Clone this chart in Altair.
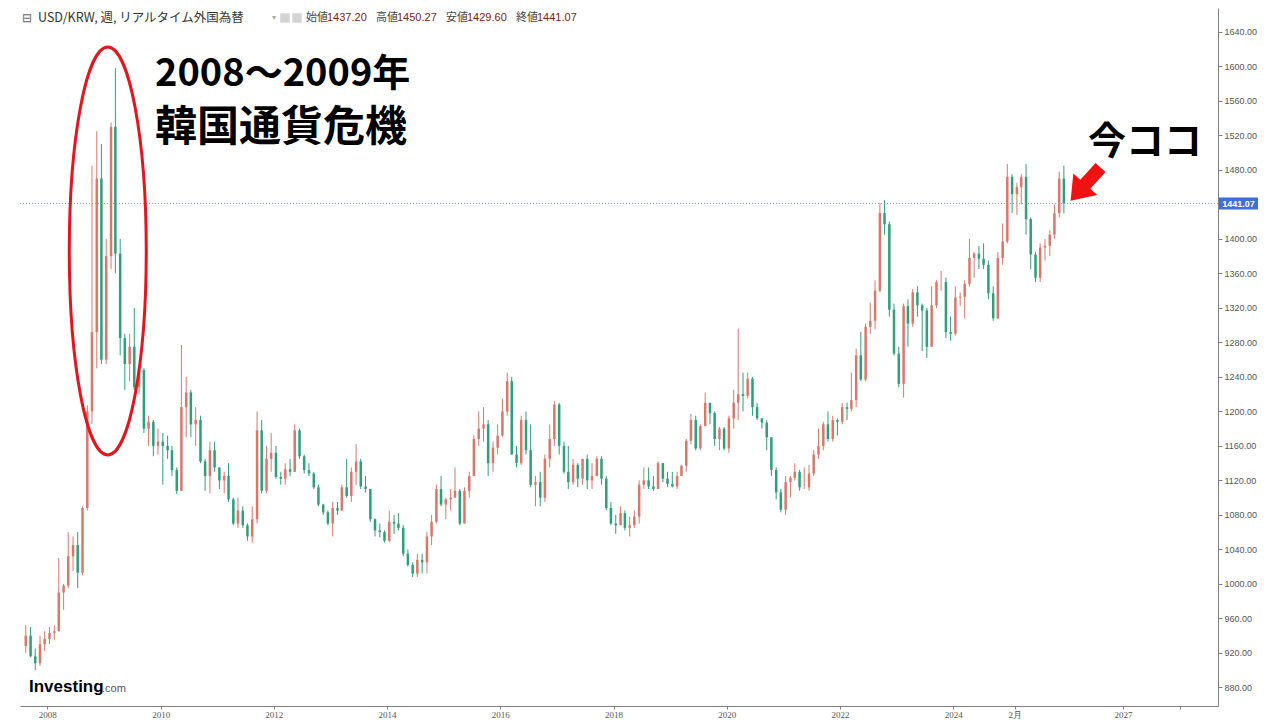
import altair as alt
import pandas as pd

# ---------------- data (monthly candles) ----------------
first_month = "2007-08-01"

opens = [
    928, 940, 916, 908, 930,                                          # 2007 Aug-Dec
    936, 943, 945, 990, 998, 1032, 1045, 1013, 1088, 1200, 1292, 1470,  # 2008
    1260, 1380, 1530, 1383, 1285, 1255, 1275, 1228, 1248, 1180, 1188, 1160,  # 2009
    1165, 1160, 1155, 1132, 1108, 1205, 1222, 1185, 1190, 1142, 1125, 1155,  # 2010
    1135, 1120, 1125, 1098, 1070, 1085, 1068, 1055, 1075, 1178, 1108, 1145,  # 2011
    1152, 1124, 1122, 1133, 1130, 1178, 1148, 1132, 1128, 1112, 1092, 1083,  # 2012
    1070, 1088, 1085, 1112, 1102, 1130, 1142, 1113, 1110, 1075, 1062, 1060,  # 2013
    1050, 1072, 1070, 1065, 1035, 1022, 1012, 1028, 1025, 1055, 1072, 1110,  # 2014
    1092, 1098, 1100, 1108, 1070, 1108, 1125, 1168, 1180, 1185, 1140, 1158,  # 2015
    1172, 1200, 1235, 1150, 1140, 1190, 1155, 1115, 1118, 1100, 1145, 1168,  # 2016
    1208, 1160, 1130, 1118, 1138, 1122, 1145, 1120, 1125, 1145, 1122, 1088,  # 2017
    1070, 1068, 1082, 1065, 1068, 1078, 1115, 1120, 1113, 1110, 1140, 1122,  # 2018
    1116, 1113, 1125, 1137, 1166, 1190, 1157, 1183, 1210, 1198, 1168, 1180,  # 2019
    1157, 1192, 1210, 1220, 1218, 1238, 1205, 1192, 1187, 1170, 1132, 1106,  # 2020
    1086, 1118, 1123, 1130, 1112, 1112, 1128, 1150, 1160, 1185, 1168, 1190,  # 2021
    1188, 1205, 1203, 1213, 1265, 1237, 1298, 1305, 1340, 1430, 1417, 1318,  # 2022
    1267, 1232, 1322, 1302, 1338, 1323, 1317, 1275, 1323, 1350, 1350, 1292,  # 2023
    1290, 1332, 1333, 1348, 1378, 1383, 1377, 1370, 1337, 1308, 1378, 1397,  # 2024
    1472, 1452, 1460, 1472, 1423, 1382, 1355, 1390, 1392, 1405, 1430, 1470,  # 2025
]
highs = [
    952, 950, 925, 940, 945,
    950, 952, 1030, 1000, 1060, 1055, 1060, 1090, 1207, 1485, 1525, 1510,
    1400, 1535, 1598, 1400, 1290, 1290, 1320, 1255, 1250, 1195, 1190, 1180,
    1175, 1172, 1160, 1135, 1277, 1240, 1225, 1205, 1195, 1145, 1165, 1165,
    1135, 1130, 1140, 1100, 1100, 1090, 1070, 1090, 1200, 1190, 1160, 1175,
    1160, 1130, 1140, 1145, 1185, 1180, 1150, 1140, 1130, 1115, 1093, 1085,
    1095, 1095, 1115, 1145, 1135, 1162, 1145, 1125, 1110, 1076, 1070, 1062,
    1085, 1080, 1082, 1068, 1040, 1025, 1035, 1035, 1060, 1080, 1115, 1125,
    1100, 1110, 1135, 1110, 1112, 1130, 1172, 1200, 1205, 1190, 1165, 1185,
    1215, 1245, 1240, 1160, 1195, 1200, 1185, 1125, 1130, 1150, 1185, 1212,
    1210, 1165, 1160, 1145, 1140, 1145, 1150, 1140, 1148, 1148, 1125, 1095,
    1080, 1090, 1085, 1078, 1085, 1120, 1135, 1135, 1125, 1142, 1140, 1130,
    1130, 1130, 1138, 1168, 1197, 1195, 1185, 1222, 1210, 1200, 1182, 1182,
    1195, 1225, 1296, 1245, 1245, 1240, 1210, 1192, 1190, 1170, 1135, 1110,
    1125, 1125, 1140, 1132, 1135, 1138, 1155, 1180, 1188, 1200, 1195, 1192,
    1210, 1210, 1245, 1273, 1292, 1302, 1326, 1352, 1442, 1445, 1420, 1325,
    1275, 1325, 1330, 1342, 1345, 1325, 1320, 1345, 1352, 1363, 1355, 1310,
    1345, 1338, 1352, 1400, 1385, 1392, 1395, 1375, 1345, 1385, 1418, 1487,
    1475, 1465, 1475, 1487, 1425, 1385, 1395, 1400, 1410, 1440, 1478, 1485,
]
lows = [
    920, 915, 900, 905, 922,
    930, 935, 945, 970, 995, 1015, 995, 1010, 1085, 1185, 1250, 1255,
    1255, 1365, 1360, 1265, 1225, 1235, 1225, 1220, 1175, 1160, 1148, 1150,
    1115, 1145, 1125, 1104, 1108, 1170, 1170, 1160, 1140, 1108, 1105, 1130,
    1110, 1105, 1095, 1068, 1065, 1065, 1050, 1048, 1070, 1105, 1105, 1130,
    1122, 1115, 1115, 1125, 1130, 1145, 1128, 1125, 1110, 1090, 1080, 1068,
    1055, 1080, 1085, 1100, 1095, 1115, 1110, 1106, 1072, 1055, 1054, 1048,
    1048, 1058, 1062, 1032, 1020, 1008, 1008, 1012, 1012, 1045, 1070, 1090,
    1075, 1085, 1100, 1068, 1070, 1100, 1125, 1160, 1165, 1125, 1130, 1150,
    1170, 1195, 1150, 1135, 1138, 1150, 1112, 1090, 1090, 1095, 1135, 1160,
    1150, 1128, 1110, 1115, 1112, 1115, 1110, 1110, 1125, 1115, 1085, 1068,
    1058, 1068, 1062, 1055, 1065, 1070, 1110, 1110, 1108, 1110, 1118, 1112,
    1112, 1110, 1125, 1130, 1162, 1155, 1155, 1183, 1185, 1160, 1155, 1155,
    1152, 1180, 1190, 1200, 1215, 1195, 1190, 1180, 1155, 1125, 1098, 1083,
    1080, 1100, 1120, 1108, 1110, 1108, 1125, 1145, 1155, 1165, 1165, 1172,
    1185, 1190, 1200, 1205, 1235, 1235, 1290, 1295, 1338, 1405, 1310, 1265,
    1228, 1216, 1275, 1298, 1310, 1270, 1262, 1275, 1320, 1340, 1285, 1282,
    1288, 1322, 1308, 1345, 1355, 1365, 1365, 1330, 1305, 1307, 1370, 1395,
    1430, 1428, 1440, 1405, 1365, 1350, 1350, 1375, 1380, 1400, 1425, 1429.6,
]
closes = [
    940, 916, 908, 930, 936,
    943, 945, 990, 998, 1032, 1045, 1013, 1088, 1200, 1292, 1470, 1260,
    1380, 1530, 1383, 1285, 1255, 1275, 1228, 1248, 1180, 1188, 1160, 1165,
    1160, 1155, 1132, 1108, 1205, 1222, 1185, 1190, 1142, 1125, 1155, 1135,
    1120, 1125, 1098, 1070, 1085, 1068, 1055, 1075, 1178, 1108, 1145, 1152,
    1124, 1122, 1133, 1130, 1178, 1148, 1132, 1128, 1112, 1092, 1083, 1070,
    1088, 1085, 1112, 1102, 1130, 1142, 1113, 1110, 1075, 1062, 1060, 1050,
    1072, 1070, 1065, 1035, 1022, 1012, 1028, 1025, 1055, 1072, 1110, 1092,
    1098, 1100, 1108, 1070, 1108, 1125, 1168, 1180, 1185, 1140, 1158, 1172,
    1200, 1235, 1150, 1140, 1190, 1155, 1115, 1118, 1100, 1145, 1168, 1208,
    1160, 1130, 1118, 1138, 1122, 1145, 1120, 1125, 1145, 1122, 1088, 1070,
    1068, 1082, 1065, 1068, 1078, 1115, 1120, 1113, 1110, 1140, 1122, 1116,
    1113, 1125, 1137, 1166, 1190, 1157, 1183, 1210, 1198, 1168, 1180, 1157,
    1192, 1210, 1220, 1218, 1238, 1205, 1192, 1187, 1170, 1132, 1106, 1086,
    1118, 1123, 1130, 1112, 1112, 1128, 1150, 1160, 1185, 1168, 1190, 1188,
    1205, 1203, 1213, 1265, 1237, 1298, 1305, 1340, 1430, 1417, 1318, 1267,
    1232, 1322, 1302, 1338, 1323, 1317, 1275, 1323, 1350, 1350, 1292, 1290,
    1332, 1333, 1348, 1378, 1383, 1377, 1370, 1337, 1308, 1378, 1397, 1472,
    1452, 1460, 1472, 1423, 1382, 1355, 1390, 1392, 1405, 1430, 1470, 1441.07,
]

# latest weekly bar shown in the header
header_labels = ["始値", "高値", "安値", "終値"]
header_values = ["1437.20", "1450.27", "1429.60", "1441.07"]
last_price = 1441.07

y_tick_values = list(range(880, 1681, 40))
x_tick_dates = ["2008-01-01", "2010-01-01", "2012-01-01", "2014-01-01", "2016-01-01",
                "2018-01-01", "2020-01-01", "2022-01-01", "2024-01-01", "2025-02-01",
                "2027-01-01", "2028-01-01"]

# ---------------- table ----------------
months = pd.date_range(first_month, periods=len(closes), freq="MS") + pd.Timedelta(days=14)
df = pd.DataFrame({"date": months, "open": opens, "high": highs, "low": lows, "close": closes})
df["dir"] = ["up" if c >= o else "down" for o, c in zip(opens, closes)]

UP = "#d9786a"
DOWN = "#2f9e7a"

xs = alt.Scale(domain=[alt.DateTime(year=2007, month=8, date=10),
                       alt.DateTime(year=2028, month=8, date=3)], nice=False)
ys = alt.Scale(domain=[858.4, 1667.8], nice=False, zero=False)

x_axis = alt.Axis(
    values=[alt.DateTime(year=int(d[:4]), month=int(d[5:7]), date=1) for d in x_tick_dates],
    labelExpr="month(datum.value) == 1 ? '2月' : (year(datum.value) == 2028 ? '' : timeFormat(datum.value, '%Y'))",
    title=None, grid=False, domainColor="#808080", tickColor="#808080", tickSize=3,
    labelPadding=1, labelFontSize=9, labelColor="#555555", labelFont="Liberation Sans Narrow",
)
y_axis = alt.Axis(
    orient="right", values=y_tick_values, format=".2f", title=None, grid=False,
    domainColor="#808080", tickColor="#808080", tickSize=4, labelPadding=2,
    labelFontSize=9, labelColor="#555555", labelFont="Liberation Sans",
)
X = lambda f: alt.X(f, scale=xs, axis=x_axis)
Y = lambda f: alt.Y(f, scale=ys, axis=y_axis)
color = alt.Color("dir:N", scale=alt.Scale(domain=["up", "down"], range=[UP, DOWN]), legend=None)

base = alt.Chart(df)
wicks = base.mark_rule(strokeWidth=1).encode(x=X("date:T"), y=Y("low:Q"), y2="high:Q", color=color)
bodies = base.mark_bar(size=2.5).encode(x=X("date:T"), y=Y("open:Q"), y2="close:Q", color=color)

one = pd.DataFrame({"v": [last_price], "t": [f"{last_price:.2f}"]})
price_line = alt.Chart(one).mark_rule(color="#7d9ad3", strokeDash=[1, 2], strokeWidth=1).encode(y=Y("v:Q"))
price_box = alt.Chart(one).mark_rect(color="#3f6fd9", yOffset=-6, y2Offset=6).encode(
    y=Y("v:Q"), y2="v:Q", x=alt.value(1199), x2=alt.value(1238)
)
price_txt = alt.Chart(one).mark_text(
    color="white", fontSize=9, fontWeight="bold", align="center", baseline="middle", font="Liberation Sans"
).encode(y=Y("v:Q"), x=alt.value(1218.5), text="t:N")

# red ellipse around the 2008-2009 crisis
ellipse_path = "M 0 -1 A 0.1887 1 0 1 1 0 1 A 0.1887 1 0 1 1 0 -1 Z"
ellipse = alt.Chart(pd.DataFrame({"date": [pd.Timestamp("2009-01-25")], "v": [1386]})).mark_point(
    shape=ellipse_path, size=408 * 408, filled=False, color="#e3161d", strokeWidth=3, opacity=1
).encode(x=X("date:T"), y=Y("v:Q"))

# red arrow pointing to the latest bar
arrow_path = "M -1 -0.3 L 0.02 -0.3 L 0.02 -0.72 L 1 0 L 0.02 0.72 L 0.02 0.3 L -1 0.3 Z"
arrow = alt.Chart(pd.DataFrame({"date": [pd.Timestamp("2026-05-04")], "v": [1463.7]})).mark_point(
    shape=arrow_path, size=2000, filled=True, color="#f01212", opacity=1, angle=132, strokeWidth=0
).encode(x=X("date:T"), y=Y("v:Q"))

row = pd.DataFrame({"a": [0]})
JP = "Noto Sans CJK JP"


def txt(s, x, y, size, color="#000000", weight="normal", font=JP, baseline="middle"):
    return alt.Chart(row).mark_text(
        text=s, fontSize=size, color=color, fontWeight=weight, font=font,
        align="left", baseline=baseline
    ).encode(x=alt.value(x), y=alt.value(y))


def icon(x):
    return alt.Chart(row).mark_square(size=90, color="#d4d4d4", opacity=1).encode(
        x=alt.value(x), y=alt.value(HY)
    )


HY = 10
annotations = [
    txt("2008～2009年", 135, 67, 38, weight="bold"),
    txt("韓国通貨危機", 135, 120, 42, weight="bold"),
    txt("今ココ", 1068, 135, 38, weight="bold"),
    txt("⊟", 2, HY, 12, color="#666666"),
    txt("USD/KRW, 週, リアルタイム外国為替", 18, HY, 12.5, color="#333333"),
    txt("▾", 252, HY, 8, color="#aaaaaa"),
    icon(265), icon(277),
    txt("Investing", 9, 684, 17, weight="bold", font="Liberation Sans", baseline="alphabetic"),
    txt(".com", 82, 684, 11, color="#555555", font="Liberation Sans", baseline="alphabetic"),
]
for i, (lab, val) in enumerate(zip(header_labels, header_values)):
    annotations.append(txt(lab, 286 + 70 * i, HY, 11, color="#444444"))
    annotations.append(txt(val, 307 + 70 * i, HY, 11, color="#7a2216", font="Liberation Sans"))

chart = alt.layer(
    wicks, bodies, price_line, price_box, price_txt, ellipse, arrow, *annotations
).properties(
    width=1198, height=698, background="white",
    autosize=alt.AutoSizeParams(type="none"),
    padding={"left": 12, "top": 0, "right": 54, "bottom": 14},
).configure_view(stroke=None)

chart.save("out.html", embed_options={"renderer": "svg", "actions": False})
